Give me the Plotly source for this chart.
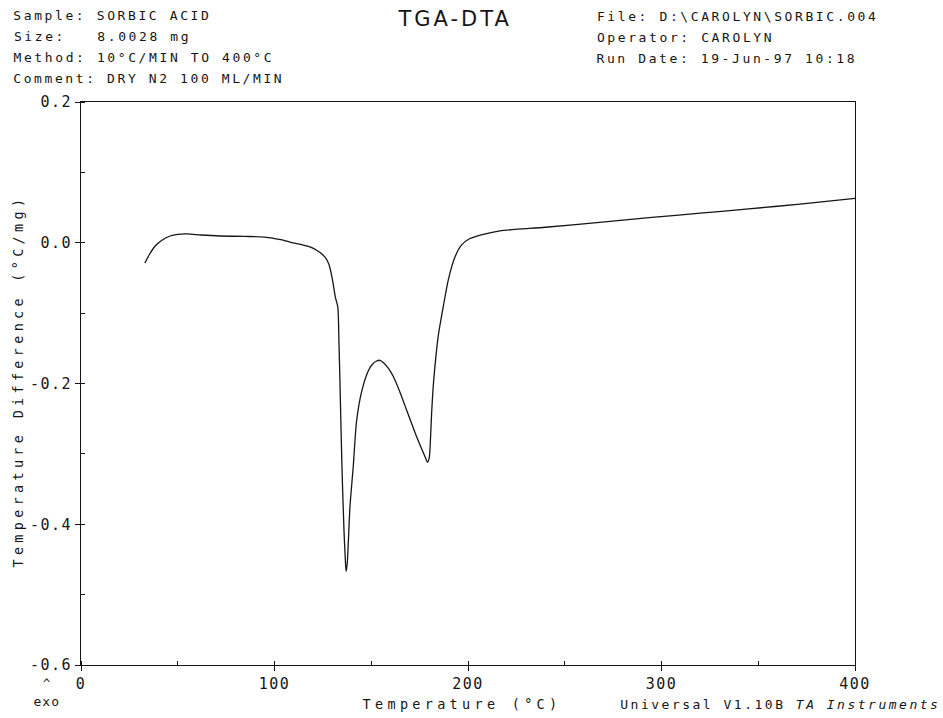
import json
import re
import plotly.graph_objects as go

# DTA trace of sorbic acid, 10 °C/min under dry N2
temp_c = [33.0, 35.5, 38.2, 42.0, 46.0, 50.0, 55.0, 62.0, 72.0, 85.0, 95.0, 100.0,
          104.0, 108.0, 113.0, 118.3, 122.0, 124.5, 126.5, 128.0, 129.2, 130.3,
          131.5, 132.7, 133.3, 133.8, 134.9, 135.9, 136.5, 137.0, 137.6, 139.0,
          140.7, 142.4, 145.0, 148.5, 150.5, 152.8, 154.5, 156.2, 158.8, 161.4,
          164.8, 168.3, 173.5, 177.8, 179.1, 180.0, 180.6, 181.2, 182.0, 182.9,
          184.6, 187.2, 189.8, 193.3, 196.7, 201.0, 207.9, 216.5, 240.0, 268.0,
          295.0, 320.0, 345.0, 371.6, 400.0]
delta_t = [-0.029, -0.016, -0.005, 0.004, 0.0096, 0.012, 0.0125, 0.011, 0.0096,
           0.009, 0.008, 0.006, 0.004, 0.001, -0.002, -0.006, -0.011, -0.016,
           -0.022, -0.030, -0.042, -0.058, -0.078, -0.091, -0.140, -0.195,
           -0.323, -0.408, -0.445, -0.467, -0.455, -0.375, -0.318, -0.254,
           -0.212, -0.182, -0.173, -0.168, -0.167, -0.170, -0.178, -0.190,
           -0.212, -0.238, -0.276, -0.304, -0.312, -0.305, -0.280, -0.242,
           -0.205, -0.176, -0.133, -0.091, -0.053, -0.020, -0.003, 0.006, 0.012,
           0.017, 0.022, 0.029, 0.036, 0.042, 0.048, 0.055, 0.063]

x_tick_vals = [0, 100, 200, 300, 400]
x_tick_text = ["0", "100", "200", "300", "400"]
y_tick_vals = [-0.6, -0.4, -0.2, 0.0, 0.2]
y_tick_text = ["-0.6", "-0.4", "-0.2", "0.0", "0.2"]

header_left = ["Sample: SORBIC ACID", "Size:   8.0028 mg",
               "Method: 10°C/MIN TO 400°C", "Comment: DRY N2 100 ML/MIN"]
header_right = ["File: D:\\CAROLYN\\SORBIC.004", "Operator: CAROLYN",
                "Run Date: 19-Jun-97 10:18"]
title_text = "TGA-DTA"
y_title = "Temperature Difference (°C/mg)"
x_title = "Temperature (°C)"
footer = "Universal V1.10B <i>TA Instruments</i>"

MONO = "DejaVu Sans Mono"
ink = "#151515"
W, H = 943, 718
L, R, T, B = 81, 88, 102, 53

fig = go.Figure()
fig.add_trace(go.Scatter(x=temp_c, y=delta_t, mode="lines",
                         line=dict(color=ink, width=1.3, shape="spline", smoothing=0.7),
                         showlegend=False, hoverinfo="skip"))

axis_common = dict(showline=True, linecolor=ink, linewidth=1, mirror=True,
                   showgrid=False, zeroline=False, ticks="outside", ticklen=5,
                   tickcolor=ink, tickwidth=1,
                   tickfont=dict(family=MONO, size=15, color=ink))

fig.update_xaxes(range=[0, 400], tickvals=x_tick_vals, ticktext=x_tick_text,
                 minor=dict(ticks="inside", ticklen=4, tickcolor=ink, dtick=50,
                            tick0=0, showgrid=False),
                 **axis_common)
fig.update_yaxes(range=[-0.6, 0.2], tickvals=y_tick_vals, ticktext=y_tick_text,
                 minor=dict(ticks="inside", ticklen=4, tickcolor=ink, dtick=0.1,
                            tick0=0, showgrid=False),
                 **axis_common)

# (text, centre x px, centre y px, font family, size, letter spacing px, angle)
labels = []
PITCH_HDR = 10.4
for i, line in enumerate(header_left):
    labels.append((line, 14 + len(line) * PITCH_HDR / 2, 16 + i * 20.7, MONO, 13, 2.6, 0))
for i, line in enumerate(header_right):
    labels.append((line, 597 + len(line) * PITCH_HDR / 2, 17 + i * 20.7, MONO, 13, 2.6, 0))
labels.append((title_text, 455, 19, "DejaVu Sans", 21, 3.0, 0))
labels.append((y_title, 18, 381, MONO, 13.5, 4.3, -90))
labels.append((x_title, 462, 704, MONO, 13.5, 4.3, 0))
labels.append((footer, 780, 704, MONO, 13, 2.5, 0))
labels.append(("^", 46, 684, MONO, 12, 0, 0))
labels.append(("exo", 46, 701, MONO, 13, 1.0, 0))

annotations = []
spacing = {}
for text, px, py, fam, size, ls, ang in labels:
    annotations.append(dict(text=text, xref="paper", yref="paper",
                            x=(px - L) / (W - L - R), y=1 - (py - T) / (H - T - B),
                            showarrow=False, xanchor="center", yanchor="middle",
                            textangle=ang, font=dict(family=fam, size=size, color=ink)))
    spacing[re.sub(r"<[^>]+>", "", text)] = ls

fig.update_layout(width=W, height=H, margin=dict(l=L, r=R, t=T, b=B),
                  paper_bgcolor="white", plot_bgcolor="white",
                  annotations=annotations)

# widen the plotter-style lettering after the figure is drawn
post = """
var gd = document.getElementById('{plot_id}');
var sp = %s;
gd.querySelectorAll('text.annotation-text').forEach(function (t) {
  var k = t.textContent;
  if (sp[k] !== undefined) { t.style.letterSpacing = sp[k] + 'px'; }
});
gd.querySelectorAll('.xtick text, .ytick text').forEach(function (t) {
  t.style.letterSpacing = '1.5px';
});
""" % json.dumps(spacing)

fig.write_html("out.html", post_script=post)
